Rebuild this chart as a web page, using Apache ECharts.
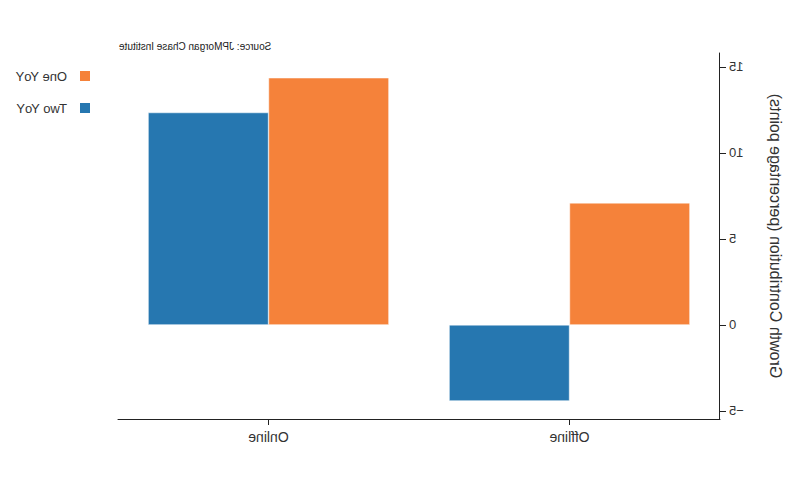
<!DOCTYPE html>
<html>
<head>
<meta charset="utf-8">
<script src="https://cdn.jsdelivr.net/npm/echarts@6/dist/echarts.min.js"></script>
<style>
html,body{margin:0;padding:0;background:#fff;}
#chart{width:800px;height:500px;transform:scaleX(-1);transform-origin:center;}
</style>
</head>
<body>
<div id="chart"></div>
<script>
// Data (the reference picture is drawn mirrored horizontally)
const categories = ['Offline', 'Online'];
const seriesNames = ['One YoY', 'Two YoY'];
const oneYoY = [7.09, 14.36];
const twoYoY = [-4.42, 12.34];
const yTicks = [-5, 0, 5, 10, 15];
const yMin = -5.47;
const yMax = 15.8;
const sourceText = 'Source: JPMorgan Chase Institute';
const yAxisName = 'Growth Contribution (percentage points)';

const font = '"Liberation Sans", Arial, sans-serif';
const txt = '#333';
const chart = echarts.init(document.getElementById('chart'), null, {renderer: 'svg'});
chart.setOption({
  animation: false,
  title: {
    text: sourceText,
    right: 114,
    top: 36,
    textStyle: {fontSize: 10, fontWeight: 'normal', color: '#222', fontFamily: font}
  },
  legend: {
    orient: 'vertical',
    left: 703,
    top: 64,
    itemWidth: 12,
    itemHeight: 12,
    itemGap: 18,
    icon: 'rect',
    textStyle: {fontSize: 13, color: txt, fontFamily: font, padding: [0, 0, 0, 7]},
    data: seriesNames
  },
  grid: {left: 80, right: 118, top: 53, bottom: 81},
  xAxis: {
    type: 'category',
    data: categories,
    axisLine: {onZero: false, lineStyle: {color: '#222', width: 1}},
    axisTick: {show: true, alignWithLabel: true, length: 6, lineStyle: {color: '#222'}},
    axisLabel: {fontSize: 14, color: txt, margin: 11, fontFamily: font}
  },
  yAxis: {
    type: 'value',
    min: yMin,
    max: yMax,
    name: yAxisName,
    nameLocation: 'middle',
    nameGap: 47,
    nameTextStyle: {fontSize: 16, color: txt, fontFamily: font},
    splitLine: {show: false},
    axisLine: {show: true, lineStyle: {color: '#222', width: 1}},
    axisTick: {show: true, length: 6, customValues: yTicks, lineStyle: {color: '#222'}},
    axisLabel: {
      fontSize: 13, color: txt, margin: 9, customValues: yTicks, fontFamily: font,
      formatter: v => String(v).replace('-', '\u2212')
    }
  },
  series: [
    {
      name: seriesNames[0],
      type: 'bar',
      data: oneYoY,
      barGap: '0%',
      barCategoryGap: '20%',
      itemStyle: {color: '#f5823a', borderColor: '#fff', borderWidth: 0.5}
    },
    {
      name: seriesNames[1],
      type: 'bar',
      data: twoYoY,
      barGap: '0%',
      barCategoryGap: '20%',
      itemStyle: {color: '#2677b0', borderColor: '#fff', borderWidth: 0.5}
    }
  ]
});
</script>
</body>
</html>
